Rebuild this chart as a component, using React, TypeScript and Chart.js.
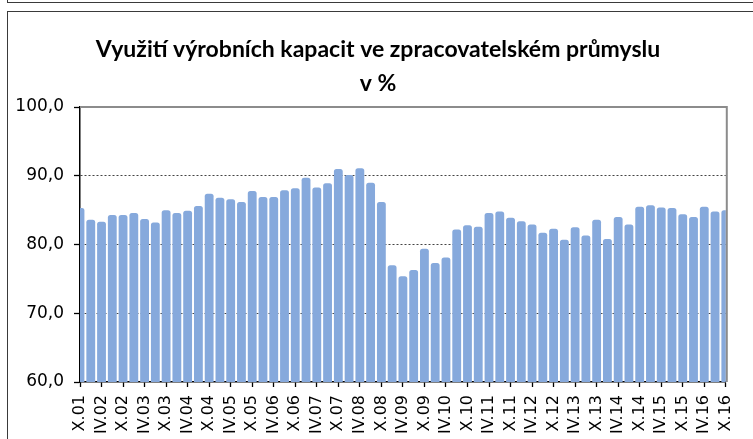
import React, { useEffect, useRef } from "react";
import { Chart, registerables } from "chart.js";

Chart.register(...registerables);

const titleLines = ["Využití výrobních kapacit ve zpracovatelském průmyslu", "v %"];

const categories = [
  "X.01",
  "I.02", "IV.02", "VII.02", "X.02",
  "I.03", "IV.03", "VII.03", "X.03",
  "I.04", "IV.04", "VII.04", "X.04",
  "I.05", "IV.05", "VII.05", "X.05",
  "I.06", "IV.06", "VII.06", "X.06",
  "I.07", "IV.07", "VII.07", "X.07",
  "I.08", "IV.08", "VII.08", "X.08",
  "I.09", "IV.09", "VII.09", "X.09",
  "I.10", "IV.10", "VII.10", "X.10",
  "I.11", "IV.11", "VII.11", "X.11",
  "I.12", "IV.12", "VII.12", "X.12",
  "I.13", "IV.13", "VII.13", "X.13",
  "I.14", "IV.14", "VII.14", "X.14",
  "I.15", "IV.15", "VII.15", "X.15",
  "I.16", "IV.16", "VII.16", "X.16",
];

const values = [
  85.3,
  83.6, 83.3, 84.3, 84.3,
  84.6, 83.7, 83.2, 85.0,
  84.6, 84.9, 85.6, 87.4,
  86.8, 86.6, 86.2, 87.8,
  86.9, 86.9, 87.9, 88.2,
  89.7, 88.3, 88.9, 91.0,
  90.1, 91.1, 89.0, 86.2,
  77.0, 75.4, 76.3, 79.4,
  77.3, 78.1, 82.2, 82.8,
  82.6, 84.6, 84.8, 83.9,
  83.4, 82.9, 81.7, 82.3,
  80.7, 82.5, 81.3, 83.6,
  80.8, 84.0, 82.9, 85.5,
  85.7, 85.4, 85.3, 84.4,
  84.0, 85.5, 84.8, 85.0,
];

const yMin = 60;
const yMax = 100;
const yStep = 10;

export default function App() {
  const canvasRef = useRef<HTMLCanvasElement>(null);

  useEffect(() => {
    const canvas = canvasRef.current;
    if (!canvas) return;

    const titlePlugin = {
      id: "excelTitle",
      afterDraw(chart: any) {
        const ctx = chart.ctx;
        ctx.save();
        ctx.font = "bold 23px Lato";
        ctx.fillStyle = "#000";
        ctx.textAlign = "center";
        ctx.textBaseline = "middle";
        ctx.fillText(titleLines[0], 378, 50);
        ctx.fillText(titleLines[1], 378, 84);
        ctx.restore();
      },
    };

    const borderPlugin = {
      id: "plotBorder",
      afterDatasetsDraw(chart: any) {
        const { ctx, chartArea } = chart;
        ctx.save();
        ctx.strokeStyle = "#8c8c8c";
        ctx.lineWidth = 2;
        ctx.beginPath();
        ctx.moveTo(chartArea.left, chartArea.top);
        ctx.lineTo(chartArea.right + 1, chartArea.top);
        ctx.lineTo(chartArea.right + 1, chartArea.bottom);
        ctx.stroke();
        ctx.restore();
      },
    };

    const chart = new Chart(canvas, {
      type: "bar",
      data: {
        labels: categories,
        datasets: [
          {
            data: values,
            backgroundColor: "#86A9DC",
            borderWidth: 0,
            borderRadius: { topLeft: 2.5, topRight: 2.5, bottomLeft: 0, bottomRight: 0 },
            borderSkipped: "bottom",
            barPercentage: 0.82,
            categoryPercentage: 1,
            clip: 0,
          } as any,
        ],
      },
      options: {
        animation: false,
        responsive: false,
        maintainAspectRatio: false,
        devicePixelRatio: 1,
        layout: { padding: { top: 107, right: 14, left: 0, bottom: 0 } },
        plugins: {
          legend: { display: false },
          tooltip: { enabled: false },
          title: { display: false },
        },
        scales: {
          x: {
            offset: false,
            grid: {
              offset: false,
              drawOnChartArea: false,
              drawTicks: true,
              tickLength: 5,
              tickWidth: 1.3,
              tickColor: (c: any) => (c.index % 2 === 0 ? "#000" : "rgba(0,0,0,0)"),
            },
            border: { color: "#000", width: 1.5 },
            ticks: {
              autoSkip: false,
              minRotation: 90,
              maxRotation: 90,
              padding: 8,
              color: "#000",
              font: { family: "DejaVu Sans", size: 16 },
              callback: (_v: any, i: number) => (i % 2 === 0 ? categories[i] : ""),
            },
            afterFit: (s: any) => {
              s.height = 57;
            },
          } as any,
          y: {
            min: yMin,
            max: yMax,
            ticks: {
              stepSize: yStep,
              color: "#000",
              padding: 10,
              font: { family: "DejaVu Sans", size: 17 },
              callback: (v: any) => Number(v).toFixed(1).replace(".", ","),
            },
            grid: {
              color: (c: any) =>
                c.tick && (c.tick.value === yMin || c.tick.value === yMax) ? "rgba(0,0,0,0)" : "#444",
              lineWidth: 1,
              tickColor: "#000",
              tickLength: 6,
              tickWidth: 1.3,
            },
            border: { color: "#000", width: 1.5, dash: [2, 2] },
            afterFit: (s: any) => {
              s.width = 80;
            },
          } as any,
        },
      },
      plugins: [titlePlugin, borderPlugin],
    });

    return () => chart.destroy();
  }, []);

  return (
    <div
      style={{
        position: "absolute",
        left: 0,
        top: 0,
        width: 753,
        height: 439,
        overflow: "hidden",
        background: "#fff",
      }}
    >
      <div
        style={{
          position: "absolute",
          left: 7,
          top: -20,
          width: 800,
          height: 21,
          border: "1.5px solid #3a3a3a",
        }}
      />
      <div
        style={{
          position: "absolute",
          left: 7,
          top: 11,
          width: 800,
          height: 500,
          border: "1.5px solid #3a3a3a",
        }}
      />
      <canvas
        ref={canvasRef}
        width={753}
        height={439}
        style={{ position: "absolute", left: 0, top: 0, width: 753, height: 439, display: "block" }}
      />
    </div>
  );
}
